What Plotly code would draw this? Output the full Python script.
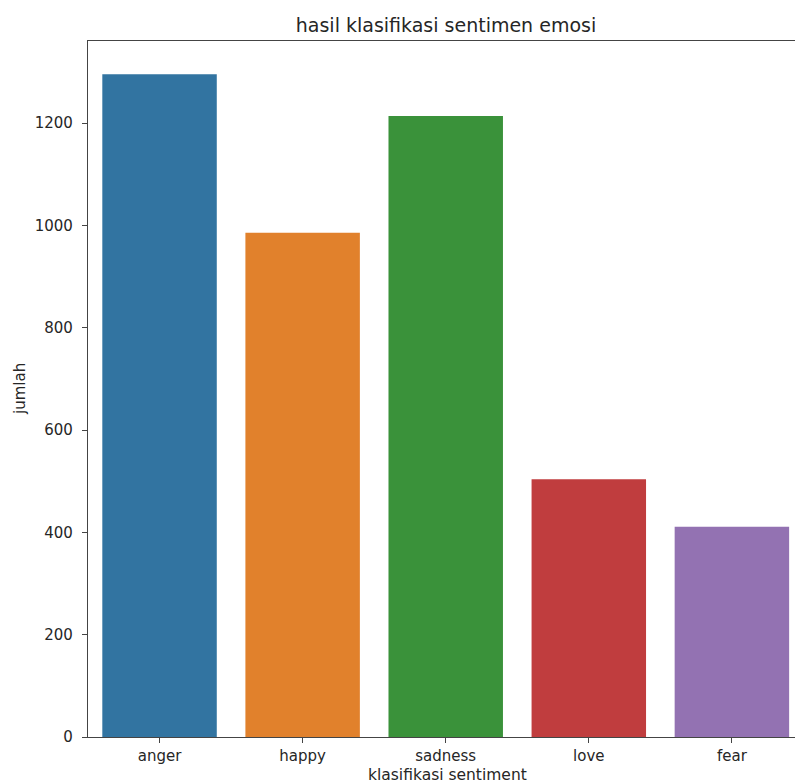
import plotly.graph_objects as go

categories = ["anger", "happy", "sadness", "love", "fear"]
counts = [1296, 986, 1214, 504, 411]
colors = ["#3274a1", "#e1812c", "#3a923a", "#c03d3e", "#9372b2"]
y_ticks = [0, 200, 400, 600, 800, 1000, 1200]

W, H = 795, 783
L, R, T, B = 88, 0, 41, 46
PW, PH = W - L - R, H - T - B

fig = go.Figure(
    go.Bar(
        x=list(range(len(categories))),
        y=counts,
        marker=dict(color=colors, line=dict(width=0)),
        width=0.8,
    )
)

font = "DejaVu Sans"
txt = "#262626"
fig.update_layout(
    width=W,
    height=H,
    margin=dict(l=L, r=R, t=T, b=B, pad=0),
    paper_bgcolor="white",
    plot_bgcolor="white",
    showlegend=False,
    font=dict(family=font, size=15, color=txt),
    title=dict(
        text="hasil klasifikasi sentimen emosi",
        x=(446 - L) / PW, xref="paper", xanchor="center",
        y=1 - 25 / H, yref="container", yanchor="middle",
        font=dict(family=font, size=19, color=txt),
    ),
)
fig.update_xaxes(
    range=[-0.5, 4.441],
    tickmode="array",
    tickvals=list(range(len(categories))),
    ticktext=categories,
    showgrid=False,
    zeroline=False,
    showline=True,
    linecolor="#444",
    linewidth=1.2,
    mirror=True,
    ticks="outside",
    ticklen=5,
    tickcolor="#444",
    tickfont=dict(size=15, color=txt),
)
fig.update_yaxes(
    range=[0, 1360.8],
    tickmode="array",
    tickvals=y_ticks,
    showgrid=False,
    zeroline=False,
    showline=True,
    linecolor="#444",
    linewidth=1.2,
    ticks="outside",
    ticklen=5,
    tickcolor="#444",
    ticklabelstandoff=6,
    tickfont=dict(size=15, color=txt),
)
fig.add_annotation(
    text="klasifikasi sentiment", xref="paper", yref="paper",
    x=(447 - L) / PW, y=-(775 - (H - B)) / PH,
    xanchor="center", yanchor="middle", showarrow=False,
    font=dict(family=font, size=15.5, color=txt),
)
fig.add_annotation(
    text="jumlah", xref="paper", yref="paper",
    x=-(L - 20) / PW, y=0.5, textangle=-90,
    xanchor="center", yanchor="middle", showarrow=False,
    font=dict(family=font, size=15, color=txt),
)

fig.write_html(
    "out.html",
    config={"displayModeBar": False},
    post_script="document.body.style.margin='0';document.body.style.overflow='hidden';",
)
